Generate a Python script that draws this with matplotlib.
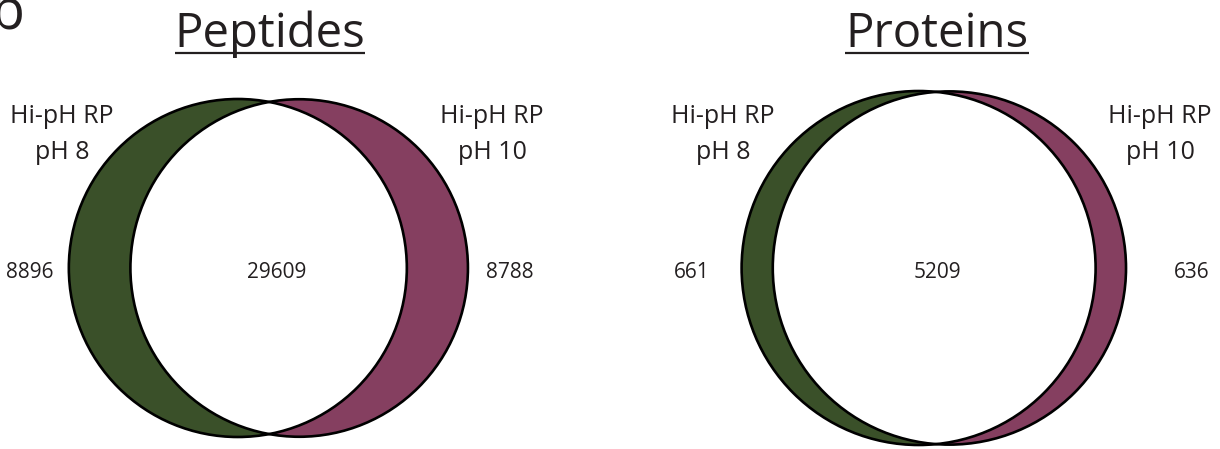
import numpy as np
import matplotlib
matplotlib.use("Agg")
import matplotlib.pyplot as plt
from matplotlib.patches import Circle

# --- data ---
titles = ["Peptides", "Proteins"]
set_a_label = "Hi-pH RP\npH 8"
set_b_label = "Hi-pH RP\npH 10"
only_ph8 = [8896, 661]
shared = [29609, 5209]
only_ph10 = [8788, 636]

# --- layout (pixels, y down) ---
pair_cx = [268.5, 934]
cy = 268
r_big = [169, 177]
num_x = [(30, 277, 510), (692, 937, 1192)]
lab_x = [(62, 492), (723, 1160)]
title_x = [270, 937]

green = "#3a5029"
magenta = "#853f60"
txt = "#231f20"
plt.rcParams["font.family"] = ["Open Sans", "DejaVu Sans"]


def lens(d, r1, r2):
    if d >= r1 + r2:
        return 0.0
    if d <= abs(r1 - r2):
        return np.pi * min(r1, r2) ** 2
    a1 = r1 ** 2 * np.arccos((d * d + r1 * r1 - r2 * r2) / (2 * d * r1))
    a2 = r2 ** 2 * np.arccos((d * d + r2 * r2 - r1 * r1) / (2 * d * r2))
    a3 = 0.5 * np.sqrt((-d + r1 + r2) * (d + r1 - r2) * (d - r1 + r2) * (d + r1 + r2))
    return a1 + a2 - a3


fig = plt.figure(figsize=(12.2, 4.49), dpi=100)
ax = fig.add_axes([0, 0, 1, 1])
ax.set_xlim(0, 1220)
ax.set_ylim(449, 0)
ax.set_aspect("equal")
ax.axis("off")

title_texts = []
for i in range(2):
    tot_a = only_ph8[i] + shared[i]
    tot_b = only_ph10[i] + shared[i]
    k = np.pi * r_big[i] ** 2 / max(tot_a, tot_b)
    r1 = np.sqrt(k * tot_a / np.pi)
    r2 = np.sqrt(k * tot_b / np.pi)
    target = k * shared[i]
    # find the centre distance giving the right overlap area
    lo, hi = abs(r1 - r2), r1 + r2
    for _ in range(80):
        mid = (lo + hi) / 2
        if lens(mid, r1, r2) > target:
            lo = mid
        else:
            hi = mid
    d = (lo + hi) / 2
    x1 = pair_cx[i] - d / 2
    x2 = pair_cx[i] + d / 2

    ca = Circle((x1, cy), r1, fc=green, ec="none", zorder=1)
    cb = Circle((x2, cy), r2, fc=magenta, ec="none", zorder=1)
    ax.add_patch(ca)
    ax.add_patch(cb)
    white = Circle((x2, cy), r2, fc="white", ec="none", zorder=2)
    ax.add_patch(white)
    white.set_clip_path(ca)
    ax.add_patch(Circle((x1, cy), r1, fill=False, ec="black", lw=1.9, zorder=3))
    ax.add_patch(Circle((x2, cy), r2, fill=False, ec="black", lw=1.9, zorder=3))

    # counts
    for x, v in zip(num_x[i], [only_ph8[i], shared[i], only_ph10[i]]):
        ax.text(x, 278, str(v), ha="center", va="baseline", fontsize=15, color=txt)

    # set labels
    for x, lab in zip(lab_x[i], [set_a_label, set_b_label]):
        for j, line in enumerate(lab.split("\n")):
            ax.text(x, 123 + 36 * j, line, ha="center", va="baseline",
                    fontsize=18, color=txt)

    t = ax.text(title_x[i], 47, titles[i], ha="center", va="baseline",
                fontsize=34, color=txt)
    title_texts.append(t)

# panel letter, cut at the figure edge like the reference
ax.text(24, 30, "b", ha="right", va="baseline", fontsize=40, color=txt)

# underline the titles
fig.canvas.draw()
inv = ax.transData.inverted()
for t in title_texts:
    bb = t.get_window_extent()
    (xa, _), (xb, _) = inv.transform([(bb.x0, bb.y0), (bb.x1, bb.y1)])
    ax.plot([min(xa, xb), max(xa, xb)], [53, 53], color=txt, lw=1.6,
            solid_capstyle="butt")

fig.savefig("out.png", dpi=100)
